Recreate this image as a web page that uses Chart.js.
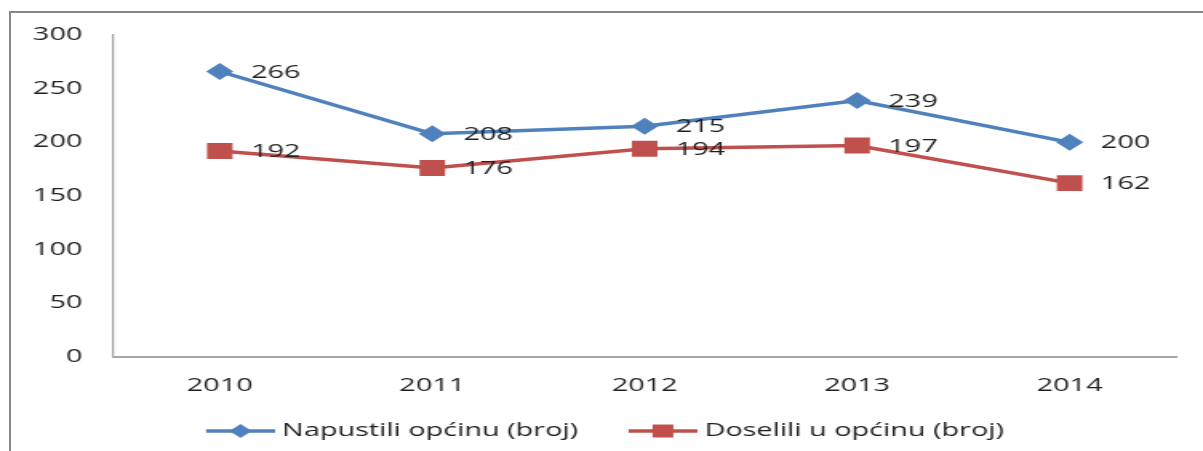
<!DOCTYPE html>
<html>
<head>
<meta charset="utf-8">
<script src="https://cdn.jsdelivr.net/npm/chart.js@4.4.1/dist/chart.umd.min.js"></script>
<style>
  html, body { margin: 0; padding: 0; background: #fff; }
  body { width: 1203px; height: 451px; overflow: hidden; position: relative; }
  #frame {
    position: absolute; left: 9px; top: 11px; right: -10px; bottom: -10px;
    border-top: 2px solid #878787; border-left: 2px solid #878787;
  }
  /* the reference is stretched sideways, so the chart is drawn narrow and scaled */
  #wrap {
    position: absolute; left: 0; top: 0; width: 752px; height: 451px;
    transform: scaleX(1.59973); transform-origin: 0 0;
  }
</style>
</head>
<body>
<div id="frame"></div>
<div id="wrap"><canvas id="chartMigration" width="752" height="451"></canvas></div>
<script>
  const years = ['2010', '2011', '2012', '2013', '2014'];
  const napustili = [266, 208, 215, 239, 200];
  const doselili = [192, 176, 194, 197, 162];
  const seriesNames = ['Napustili općinu (broj)', 'Doselili u općinu (broj)'];
  const yMin = 0, yMax = 300, yStep = 50;

  const BLUE = '#4f81bd';
  const RED = '#c0504d';
  const TEXT = '#1f1f1f';
  const FONT = { family: "'Open Sans', sans-serif", size: 18 };

  // legend swatch: a short line with the marker in the middle (transparent room on the left)
  function legendSwatch(color, shape) {
    const slack = 26, len = 43;
    const c = document.createElement('canvas');
    c.width = Math.round(slack + len);
    c.height = 20;
    const g = c.getContext('2d');
    const cy = 10, x0 = slack, mid = slack + len / 2;
    g.strokeStyle = color;
    g.lineWidth = 3.5;
    g.beginPath();
    g.moveTo(x0, cy);
    g.lineTo(x0 + len, cy);
    g.stroke();
    g.fillStyle = color;
    g.beginPath();
    if (shape === 'diamond') {
      g.moveTo(mid - 7, cy);
      g.lineTo(mid, cy - 7);
      g.lineTo(mid + 7, cy);
      g.lineTo(mid, cy + 7);
      g.closePath();
    } else {
      g.rect(mid - 6.5, cy - 6.5, 13, 13);
    }
    g.fill();
    return c;
  }

  const swatches = [legendSwatch(BLUE, 'diamond'), legendSwatch(RED, 'square')];

  const valueLabels = {
    id: 'valueLabels',
    afterDatasetsDraw(chart) {
      const ctx = chart.ctx;
      ctx.save();
      ctx.font = FONT.size + 'px ' + FONT.family;
      ctx.fillStyle = TEXT;
      ctx.textAlign = 'left';
      ctx.textBaseline = 'middle';
      chart.data.datasets.forEach((ds, i) => {
        const meta = chart.getDatasetMeta(i);
        meta.data.forEach((pt, j) => {
          ctx.fillText(String(ds.data[j]), pt.x + 19.5, pt.y + 1);
        });
      });
      ctx.restore();
    }
  };

  window.addEventListener('DOMContentLoaded', () => {
    const canvas = document.getElementById('chartMigration');
    new Chart(canvas.getContext('2d'), {
      type: 'line',
      data: {
        labels: years,
        datasets: [
          {
            label: seriesNames[0],
            data: napustili,
            borderColor: BLUE,
            backgroundColor: BLUE,
            borderWidth: 3.5,
            pointStyle: 'rectRot',
            pointRadius: 8.5,
            pointBorderWidth: 0,
            tension: 0
          },
          {
            label: seriesNames[1],
            data: doselili,
            borderColor: RED,
            backgroundColor: RED,
            borderWidth: 3.5,
            pointStyle: 'rect',
            pointRadius: 11.3,
            pointBorderWidth: 0,
            tension: 0
          }
        ]
      },
      options: {
        responsive: false,
        animation: false,
        layout: { padding: { left: 0, right: 17, top: 35, bottom: 1 } },
        plugins: {
          tooltip: { enabled: false },
          legend: {
            position: 'bottom',
            labels: {
              usePointStyle: true,
              pointStyleWidth: 60,
              padding: 10,
              color: TEXT,
              font: FONT,
              generateLabels: (chart) => chart.data.datasets.map((ds, i) => ({
                text: ds.label,
                pointStyle: swatches[i],
                fillStyle: ds.borderColor,
                strokeStyle: ds.borderColor,
                lineWidth: 0,
                fontColor: TEXT,
                datasetIndex: i
              }))
            }
          }
        },
        scales: {
          x: {
            offset: true,
            grid: { display: false, drawTicks: false },
            border: { display: true, color: '#a6a6a6', width: 2 },
            ticks: { color: TEXT, font: FONT, padding: 18, maxRotation: 0 },
            afterFit: (scale) => { scale.height = 55; }
          },
          y: {
            min: yMin,
            max: yMax,
            grid: { display: false, drawTicks: false },
            border: { display: true, color: '#a6a6a6', width: 1.25 },
            ticks: { stepSize: yStep, color: TEXT, font: FONT, padding: 19.5 },
            afterFit: (scale) => { scale.width = 71; }
          }
        }
      },
      plugins: [valueLabels]
    });
  });
</script>
</body>
</html>
